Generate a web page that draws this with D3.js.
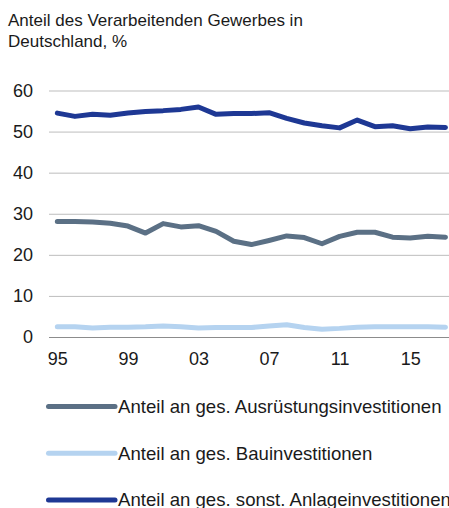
<!DOCTYPE html>
<meta charset="utf-8">
<script src="https://d3js.org/d3.v7.min.js"></script>
<style>
body { margin: 0; background: #fff; }
svg { font-family: "Liberation Sans", Arial, sans-serif; }
.title { font-size: 17px; fill: #1a1a1a; }
.axis text { font-size: 18px; fill: #1a1a1a; }
.axis path { display: none; }
.y.axis line { stroke: #bdbdbd; stroke-width: 1px; }
.legend text { font-size: 18.6px; fill: #1a1a1a; }
.serie { fill: none; stroke-width: 5; stroke-linejoin: round; stroke-linecap: round; }
</style>
<body></body>
<script>

// data
var years = [1995, 1996, 1997, 1998, 1999, 2000, 2001, 2002, 2003, 2004, 2005, 2006,
             2007, 2008, 2009, 2010, 2011, 2012, 2013, 2014, 2015, 2016, 2017];
var ausruestung = [28.1, 28.1, 28.0, 27.7, 27.0, 25.3, 27.6, 26.8, 27.1, 25.7, 23.3, 22.5,
                   23.5, 24.6, 24.2, 22.7, 24.5, 25.5, 25.5, 24.3, 24.1, 24.5, 24.3];
var bau = [2.5, 2.5, 2.2, 2.4, 2.4, 2.5, 2.7, 2.5, 2.2, 2.3, 2.3, 2.3,
           2.7, 3.0, 2.3, 1.9, 2.1, 2.4, 2.5, 2.5, 2.5, 2.5, 2.4];
var sonst = [54.5, 53.7, 54.2, 54.0, 54.5, 54.9, 55.1, 55.4, 56.0, 54.2, 54.4, 54.4,
             54.6, 53.2, 52.1, 51.4, 50.9, 52.8, 51.2, 51.4, 50.7, 51.1, 51.0];
var seriesNames = ['Anteil an ges. Ausrüstungsinvestitionen',
                   'Anteil an ges. Bauinvestitionen',
                   'Anteil an ges. sonst. Anlageinvestitionen'];
var yTicks = [0, 10, 20, 30, 40, 50, 60];
var xTickYears = [1995, 1999, 2003, 2007, 2011, 2015];
var titleLines = ['Anteil des Verarbeitenden Gewerbes in', 'Deutschland, %'];

var colors = ['#5b7085', '#b5d3f0', '#1e3894'];

var width = 449, height = 508;
var svg = d3.select('body').append('svg')
    .attr('width', width)
    .attr('height', height);

// title
svg.append('text')
  .attr('class', 'title')
  .selectAll('tspan')
  .data(titleLines)
  .enter().append('tspan')
    .attr('x', 8)
    .attr('y', function(d, i) { return 26 + i * 21; })
    .text(function(d) { return d; });

var xScale = d3.scalePoint()
  .domain(years)
  .range([48.5, 454.3])
  .padding(0.5);

var yScale = d3.scaleLinear()
  .domain([0, 60])
  .range([337, 90.5]);

var yAxis = d3.axisLeft(yScale)
  .tickValues(yTicks)
  .tickSize(-(width + 6 - 49))
  .tickPadding(16);

var yAxisGroup = svg.append('g')
  .attr('class', 'y axis')
  .attr('transform', 'translate(49,0)')
  .call(yAxis);

// zero line a bit darker
yAxisGroup.selectAll('.tick')
  .filter(function(d) { return d === 0; })
  .select('line')
  .style('stroke', '#8c8c8c');

var xAxis = d3.axisBottom(xScale)
  .tickValues(xTickYears)
  .tickSize(0)
  .tickPadding(15)
  .tickFormat(function(d) { return d3.format('02d')(d % 100); });

svg.append('g')
  .attr('class', 'x axis')
  .attr('transform', 'translate(0,337)')
  .call(xAxis);

var lineGenerator = d3.line()
  .x(function(d, i) { return xScale(years[i]); })
  .y(function(d) { return yScale(d); });

[ausruestung, bau, sonst].forEach(function(values, i) {
  svg.append('path')
    .attr('class', 'serie')
    .style('stroke', colors[i])
    .attr('d', lineGenerator(values));
});

// legend
var legend = svg.selectAll('.legend')
  .data(seriesNames)
  .enter().append('g')
    .attr('class', 'legend')
    .attr('transform', function(d, i) { return 'translate(0,' + (406.5 + i * 46.7) + ')'; });

legend.append('line')
  .attr('x1', 48.5).attr('x2', 115)
  .attr('y1', 0).attr('y2', 0)
  .style('stroke', function(d, i) { return colors[i]; })
  .style('stroke-width', 5)
  .style('stroke-linecap', 'round');

legend.append('text')
  .attr('x', 118)
  .attr('y', 6.5)
  .text(function(d) { return d; });

</script>
